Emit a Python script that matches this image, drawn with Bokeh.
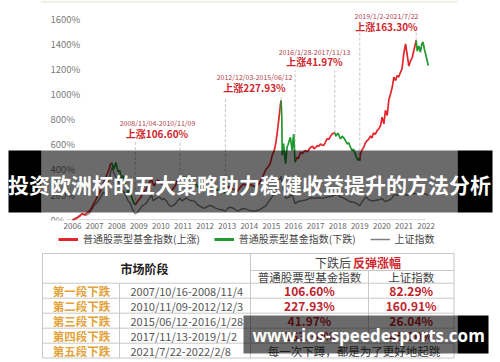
import datetime
from bokeh.plotting import figure
from bokeh.models import (Range1d, FixedTicker, Legend, LegendItem, ColumnDataSource,
                          Label, BoxAnnotation)
from bokeh.layouts import column
from bokeh.embed import file_html
from bokeh.resources import INLINE
from bokeh.core.properties import value

CJK = "Noto Sans CJK SC"

# ------------------------------------------------------------------ data
fund_years = [
    2006.00, 2006.09, 2006.17, 2006.24, 2006.34, 2006.44, 2006.52, 2006.59, 2006.68, 2006.78, 2006.86, 2006.95,
    2007.06, 2007.19, 2007.31, 2007.42, 2007.49, 2007.57, 2007.65, 2007.72, 2007.79,
    2007.85, 2007.90, 2007.96, 2008.02, 2008.08, 2008.14, 2008.20, 2008.28, 2008.36, 2008.44, 2008.52, 2008.60,
    2008.66, 2008.72, 2008.78, 2008.84,
    2008.92, 2009.00, 2009.08, 2009.16, 2009.25, 2009.33, 2009.42, 2009.50, 2009.58, 2009.64, 2009.70, 2009.78,
    2009.86, 2009.94, 2010.02, 2010.12, 2010.22, 2010.32, 2010.42, 2010.50, 2010.58, 2010.66, 2010.74, 2010.80, 2010.86,
    2010.92, 2011.00, 2011.08, 2011.18, 2011.28, 2011.38, 2011.48, 2011.58, 2011.66, 2011.74, 2011.82, 2011.92,
    2012.00, 2012.10, 2012.20, 2012.28, 2012.38, 2012.48, 2012.58, 2012.66, 2012.74, 2012.84, 2012.92,
    2013.00, 2013.08, 2013.16, 2013.25, 2013.35, 2013.45, 2013.55, 2013.65, 2013.75, 2013.85, 2013.95, 2014.05,
    2014.15, 2014.25, 2014.35, 2014.45, 2014.55, 2014.65, 2014.75, 2014.85, 2014.95, 2015.05, 2015.12, 2015.20,
    2015.27, 2015.33, 2015.38, 2015.41, 2015.44,
    2015.47, 2015.49, 2015.52, 2015.55, 2015.60, 2015.64, 2015.68, 2015.71, 2015.76, 2015.81, 2015.86, 2015.90,
    2015.94, 2015.98, 2016.01, 2016.04, 2016.07,
    2016.12, 2016.17, 2016.22, 2016.28, 2016.33, 2016.40, 2016.48, 2016.56, 2016.64, 2016.72, 2016.79, 2016.86,
    2016.93, 2017.00, 2017.08, 2017.15, 2017.22, 2017.29, 2017.36, 2017.44, 2017.52, 2017.60, 2017.68, 2017.75, 2017.87,
    2017.92, 2017.97, 2018.02, 2018.08, 2018.13, 2018.20, 2018.28, 2018.35, 2018.43, 2018.50, 2018.58, 2018.65,
    2018.71, 2018.78, 2018.85, 2018.92, 2018.96, 2019.00,
    2019.03, 2019.10, 2019.18, 2019.25, 2019.33, 2019.40, 2019.48, 2019.55, 2019.62, 2019.70, 2019.79, 2019.86,
    2019.94, 2020.01, 2020.09, 2020.16, 2020.24, 2020.31, 2020.39, 2020.47, 2020.54, 2020.62, 2020.69, 2020.76,
    2020.84, 2020.91, 2020.99, 2021.07, 2021.15, 2021.22, 2021.29, 2021.37, 2021.44, 2021.49, 2021.55,
    2021.60, 2021.67, 2021.74, 2021.81, 2021.86, 2021.92, 2022.01, 2022.10,
]
fund_values = [
    0, 3, 12, 18, 30, 50, 42, 45, 60, 72, 95, 125,
    160, 205, 250, 297, 330, 364, 400, 444, 452,
    400, 420, 455, 410, 380, 390, 335, 350, 300, 270, 215, 230,
    190, 160, 135, 118,
    140, 160, 175, 205, 230, 240, 275, 300, 320, 285, 270, 300,
    315, 305, 285, 295, 270, 245, 225, 235, 255, 275, 315, 330, 350,
    330, 335, 340, 325, 330, 310, 300, 290, 260, 270, 245, 235,
    230, 250, 260, 250, 255, 240, 235, 230, 235, 215, 220,
    250, 265, 255, 245, 240, 225, 250, 270, 285, 275, 265, 280,
    270, 265, 270, 290, 320, 360, 400, 420, 450, 520, 545, 610,
    700, 790, 870, 920, 948,
    820, 512, 600, 604, 520, 446, 520, 577, 600, 630, 656, 600,
    550, 640, 682, 560, 458,
    480, 498, 485, 520, 538, 525, 545, 550, 540, 565, 577, 585,
    565, 575, 590, 585, 603, 595, 590, 615, 643, 640, 665, 683, 692,
    665, 680, 688, 660, 643, 665, 650, 630, 603, 612, 575, 550,
    562, 530, 497, 472, 490, 470,
    528, 555, 577, 610, 630, 640, 667, 650, 690, 680, 710, 722,
    750, 816, 763, 870, 829, 950, 1000, 1055, 1134, 1107, 1147, 1135,
    1173, 1200, 1320, 1399, 1306, 1222, 1261, 1290, 1341, 1380, 1426,
    1341, 1381, 1333, 1400, 1413, 1360, 1293, 1227,
]
sh_years = [
    2006.00, 2006.10, 2006.25, 2006.40, 2006.50, 2006.60, 2006.75, 2006.90,
    2007.00, 2007.10, 2007.25, 2007.40, 2007.50, 2007.60, 2007.70, 2007.79, 2007.88, 2007.96,
    2008.05, 2008.15, 2008.25, 2008.35, 2008.45, 2008.52, 2008.62, 2008.72, 2008.84, 2008.95,
    2009.05, 2009.15, 2009.25, 2009.35, 2009.45, 2009.58, 2009.65, 2009.75, 2009.85, 2009.95,
    2010.05, 2010.15, 2010.25, 2010.35, 2010.45, 2010.55, 2010.65, 2010.75, 2010.86, 2010.95,
    2011.05, 2011.15, 2011.30, 2011.45, 2011.55, 2011.65, 2011.80, 2011.95,
    2012.05, 2012.20, 2012.30, 2012.45, 2012.60, 2012.75, 2012.92,
    2013.05, 2013.15, 2013.30, 2013.45, 2013.55, 2013.70, 2013.85,
    2014.00, 2014.15, 2014.30, 2014.45, 2014.60, 2014.75, 2014.90,
    2015.00, 2015.15, 2015.30, 2015.44, 2015.55, 2015.65, 2015.80, 2015.95,
    2016.07, 2016.20, 2016.35, 2016.50, 2016.65, 2016.80, 2016.95,
    2017.10, 2017.30, 2017.50, 2017.70, 2017.87,
    2018.00, 2018.10, 2018.25, 2018.40, 2018.55, 2018.70, 2018.85,
    2019.00, 2019.10, 2019.25, 2019.35, 2019.45, 2019.60, 2019.75, 2019.90,
    2020.00, 2020.15, 2020.30, 2020.45, 2020.55, 2020.70, 2020.85,
    2021.00, 2021.15, 2021.30, 2021.45, 2021.55, 2021.70, 2021.85,
    2022.00, 2022.10,
]
sh_values = [
    0, 10, 25, 45, 40, 35, 50, 90,
    120, 135, 175, 220, 205, 280, 360, 420, 370, 340,
    330, 260, 240, 215, 180, 150, 130, 80, 48, 60,
    85, 110, 120, 135, 165, 195, 150, 165, 175, 180,
    160, 170, 150, 120, 105, 115, 125, 150, 172, 150,
    160, 175, 155, 150, 145, 120, 105, 90,
    100, 115, 110, 95, 85, 80, 69,
    95, 100, 90, 70, 75, 90, 85,
    75, 70, 72, 78, 95, 110, 150,
    175, 210, 290, 346, 240, 170, 180, 200,
    129, 145, 150, 155, 165, 175, 170,
    175, 170, 180, 185, 197,
    205, 185, 175, 160, 145, 140, 130,
    112, 140, 180, 170, 155, 150, 155, 160,
    170, 145, 155, 170, 200, 195, 200,
    205, 195, 200, 210, 208, 200, 210,
    205, 195,
]
phase_dates = ["2006-01-04", "2007-10-16", "2008-11-04", "2010-11-09", "2012-12-03",
               "2015-06-12", "2016-01-28", "2017-11-13", "2019-01-02", "2021-07-22", "2022-02-08"]
rally_periods = ["2008/11/04-2010/11/09", "2012/12/03-2015/06/12",
                 "2016/1/28-2017/11/13", "2019/1/2-2021/7/22"]
rally_gains = ["上涨106.60%", "上涨227.93%", "上涨41.97%", "上涨163.30%"]
y_ticks = [0, 200, 400, 600, 800, 1000, 1200, 1400, 1600]
y_tick_labels = ["0%", "200%", "400%", "600%", "800%", "1000%", "1200%", "1400%", "1600%"]
x_ticks = list(range(2006, 2023))
series_names = ["普通股票型基金指数(上涨)", "普通股票型基金指数(下跌)", "上证指数"]
title_text = "投资欧洲杯的五大策略助力稳健收益提升的方法分析"

table_header = "市场阶段"
rebound_head_a = "下跌后"
rebound_head_b = "反弹涨幅"
col_heads = ["普通股票型基金指数", "上证指数"]
stage_names = ["第一段下跌", "第二段下跌", "第三段下跌", "第四段下跌", "第五段下跌"]
stage_ranges = ["2007/10/16-2008/11/4", "2010/11/09-2012/12/3", "2015/06/12-2016/1/28",
                "2017/11/13-2019/1/2", "2021/7/22-2022/2/8"]
fund_rebounds = ["106.60%", "227.93%", "41.97%", "163.30%"]
sh_rebounds = ["82.29%", "160.91%", "26.04%", "45.00%"]
motto = "每一次下蹲，都是为了更好地起跳"
watermark = "www.ios-speedesports.com"

# ------------------------------------------------------------------ helpers (layout)
X0, PXY = 72.0, 22.1          # px of 2006, px per year
Y0, K = 219.3, 200.0 / 25.16  # px of 0%, percent per px


def X(px):
    return 2006 + (px - X0) / PXY


def Y(py):
    return (Y0 - py) * K


def fy(s):
    d = datetime.date.fromisoformat(s)
    st = datetime.date(d.year, 1, 1)
    n = (datetime.date(d.year + 1, 1, 1) - st).days
    return d.year + (d - st).days / n


bounds = [fy(s) for s in phase_dates]
idx = [min(range(len(fund_years)), key=lambda i: abs(fund_years[i] - b)) for b in bounds]
red_xs, red_ys, green_xs, green_ys = [], [], [], []
for k in range(len(idx) - 1):
    a, b = idx[k], idx[k + 1]
    if k % 2 == 0:
        red_xs.append(fund_years[a:b + 1]); red_ys.append(fund_values[a:b + 1])
    else:
        green_xs.append(fund_years[a:b + 1]); green_ys.append(fund_values[a:b + 1])

# ------------------------------------------------------------------ chart
p = figure(width=500, height=232, x_range=Range1d(X(0), X(500)), y_range=Range1d(Y(220), Y(0)),
           toolbar_location=None, output_backend="svg", min_border_left=0, min_border_right=0,
           min_border_top=0, min_border_bottom=12, y_axis_location=None)
p.outline_line_color = None
p.grid.visible = False
p.background_fill_color = "white"
p.border_fill_color = "white"
p.xaxis.ticker = FixedTicker(ticks=x_ticks)
p.xaxis.major_tick_line_color = None
p.xaxis.minor_tick_line_color = None
p.xaxis.major_tick_out = 0
p.xaxis.major_tick_in = 0
p.xaxis.axis_line_color = None
p.xaxis.major_label_standoff = 2
p.xaxis.major_label_text_font_size = "8px"
p.xaxis.major_label_text_color = "#666666"
p.xaxis.major_label_text_font = CJK

# top strip
p.add_layout(BoxAnnotation(left=X(41), right=X(457), top=Y(0), bottom=Y(2.5),
                           fill_color="#f3f0ea", fill_alpha=1, line_color=None))

# baseline
p.segment(x0=[X(66)], y0=[0], x1=[X(425)], y1=[0], line_color="#cfcfcf", line_width=1)

# y tick labels (left aligned)
p.text(x=[X(50)] * len(y_ticks), y=y_ticks, text=y_tick_labels, text_align="left",
       text_baseline="middle", text_font=value(CJK), text_font_size="9.5px", text_color="#7a7a7a")

# dashed phase markers
dash_top_px = [140, 97, 70, 32]
dx0, dy0, dx1, dy1 = [], [], [], []
for r in range(4):
    for k in (2 + 2 * r, 3 + 2 * r):
        i = idx[k]
        dx0.append(fund_years[i]); dx1.append(fund_years[i])
        dy0.append(fund_values[i]); dy1.append(Y(dash_top_px[r]))
p.segment(x0=dx0, y0=dy0, x1=dx1, y1=dy1, line_color="#c4c4c4", line_width=1, line_dash="3 2")

# series
p.line(sh_years, sh_values, line_color="#808080", line_width=1.4)
p.multi_line(red_xs, red_ys, line_color="#e3262b", line_width=1.7)
p.multi_line(green_xs, green_ys, line_color="#1e9a2e", line_width=1.7)

# rally annotations
date_pos = [(157, 122.7), (254, 76.7), (314, 51), (386, 15.7)]
gain_pos = [(156.5, 132.7), (254, 87.3), (314, 60.7), (386, 25.7)]
p.text(x=[X(a) for a, _ in date_pos], y=[Y(b) for _, b in date_pos], text=rally_periods,
       text_align="center", text_baseline="middle", text_font=value(CJK), text_font_size="7px",
       text_color="#b3414b")
p.text(x=[X(a) for a, _ in gain_pos], y=[Y(b) for _, b in gain_pos], text=rally_gains,
       text_align="center", text_baseline="middle", text_font=value(CJK), text_font_size="10px",
       text_font_style="bold", text_color="#d1262d")

# banner
p.add_layout(BoxAnnotation(left=X(8), right=X(41), top=Y(150), bottom=Y(212),
                           fill_color="black", fill_alpha=1, line_color=None))
p.add_layout(BoxAnnotation(left=X(41), right=X(457), top=Y(150), bottom=Y(212),
                           fill_color="black", fill_alpha=0.58, line_color=None))
p.add_layout(BoxAnnotation(left=X(457), right=X(492), top=Y(150), bottom=Y(212),
                           fill_color="black", fill_alpha=1, line_color=None))
p.add_layout(Label(x=X(249), y=Y(183), text=title_text, text_font=CJK, text_font_size="21px",
                   text_font_style="bold", text_color="white", text_align="center",
                   text_baseline="middle"))

# ------------------------------------------------------------------ legend strip
lg = figure(width=500, height=18, x_range=Range1d(0, 1), y_range=Range1d(0, 1),
            toolbar_location=None, output_backend="svg", min_border=0,
            x_axis_location=None, y_axis_location=None)
lg.outline_line_color = None
lg.grid.visible = False
lg.background_fill_color = "white"
lg.border_fill_color = "white"
src0 = ColumnDataSource(dict(x=[-5, -4], y=[-5, -5]))   # off-range proxies for legend swatches
pr_red = lg.line("x", "y", source=src0, line_color="#e3262b", line_width=3)
pr_green = lg.line("x", "y", source=src0, line_color="#1e9a2e", line_width=3)
pr_gray = lg.line("x", "y", source=src0, line_color="#808080", line_width=1.5)
legend = Legend(items=[LegendItem(label=series_names[0], renderers=[pr_red]),
                       LegendItem(label=series_names[1], renderers=[pr_green]),
                       LegendItem(label=series_names[2], renderers=[pr_gray])],
                orientation="horizontal", location=(58, 4), padding=0, margin=0, spacing=14,
                glyph_width=20, glyph_height=12, label_standoff=5, label_height=12,
                label_text_font_size="10px", label_text_font=CJK, label_text_color="#444444",
                border_line_alpha=0, background_fill_alpha=0)
lg.add_layout(legend)

# ------------------------------------------------------------------ table
def TY(py):
    return -py


t = figure(width=500, height=112, x_range=Range1d(0, 500), y_range=Range1d(-362, -250),
           toolbar_location=None, output_backend="svg", min_border=0,
           x_axis_location=None, y_axis_location=None)
t.outline_line_color = None
t.grid.visible = False
t.background_fill_color = "white"
t.border_fill_color = "white"

L, R, T, B = 42, 453.5, 253, 357.5
c1, c2, c3 = 119, 250, 368
hmid, hb = 270, 282.7
rows = [282.7, 297.7, 312.7, 327.7, 342.7, 357.5]
segs = [(L, T, R, T), (L, B, R, B), (L, T, L, B), (R, T, R, B), (c2, hmid, R, hmid),
        (c1, hb, c1, B), (c2, T, c2, B), (c3, hmid, c3, rows[4])]
for yy in rows[:-1]:
    segs.append((L, yy, R, yy))
t.segment(x0=[s[0] for s in segs], y0=[TY(s[1]) for s in segs],
          x1=[s[2] for s in segs], y1=[TY(s[3]) for s in segs], line_color="#c8c8c8", line_width=1)

rc = [(rows[i] + rows[i + 1]) / 2 for i in range(5)]


def ttext(xs, ys, txt, size, color, bold=False, align="center", font=CJK):
    t.text(x=xs, y=[TY(v) for v in ys], text=txt, text_align=align, text_baseline="middle",
           text_font=value(font), text_font_size=size, text_color=color,
           text_font_style="bold" if bold else "normal")


ttext([144], [268], [table_header], "12px", "#222222", bold=True)
ttext([350.5], [262], [rebound_head_a], "12px", "#444444", align="right")
ttext([352.5], [262], [rebound_head_b], "12px", "#d1262d", bold=True, align="left")
ttext([309, 410.7], [276.5, 276.5], col_heads, "11.5px", "#444444")
ttext([81] * 5, rc, stage_names, "11.5px", "#e3a33b", bold=True)
ttext([130] * 5, rc, stage_ranges, "11px", "#555555", align="left")
ttext([309] * 4, rc[:4], fund_rebounds, "12px", "#c0232c", bold=True)
ttext([410.7] * 4, rc[:4], sh_rebounds, "12px", "#c0232c", bold=True)
ttext([353.5], [rc[4]], [motto], "11.5px", "#444444")

# watermark
t.add_layout(BoxAnnotation(left=243, right=457, top=TY(315), bottom=TY(353),
                           fill_color="black", fill_alpha=0.58, line_color=None))
t.add_layout(BoxAnnotation(left=457, right=488, top=TY(315), bottom=TY(353),
                           fill_color="black", fill_alpha=1, line_color=None))
t.add_layout(Label(x=252, y=TY(334.5), text=watermark, text_font="Open Sans", text_font_size="17px",
                   text_font_style="bold", text_color="white", text_align="left",
                   text_baseline="middle"))

layout = column(p, lg, t)
open("out.html", "w").write(file_html(layout, INLINE, title="chart"))
